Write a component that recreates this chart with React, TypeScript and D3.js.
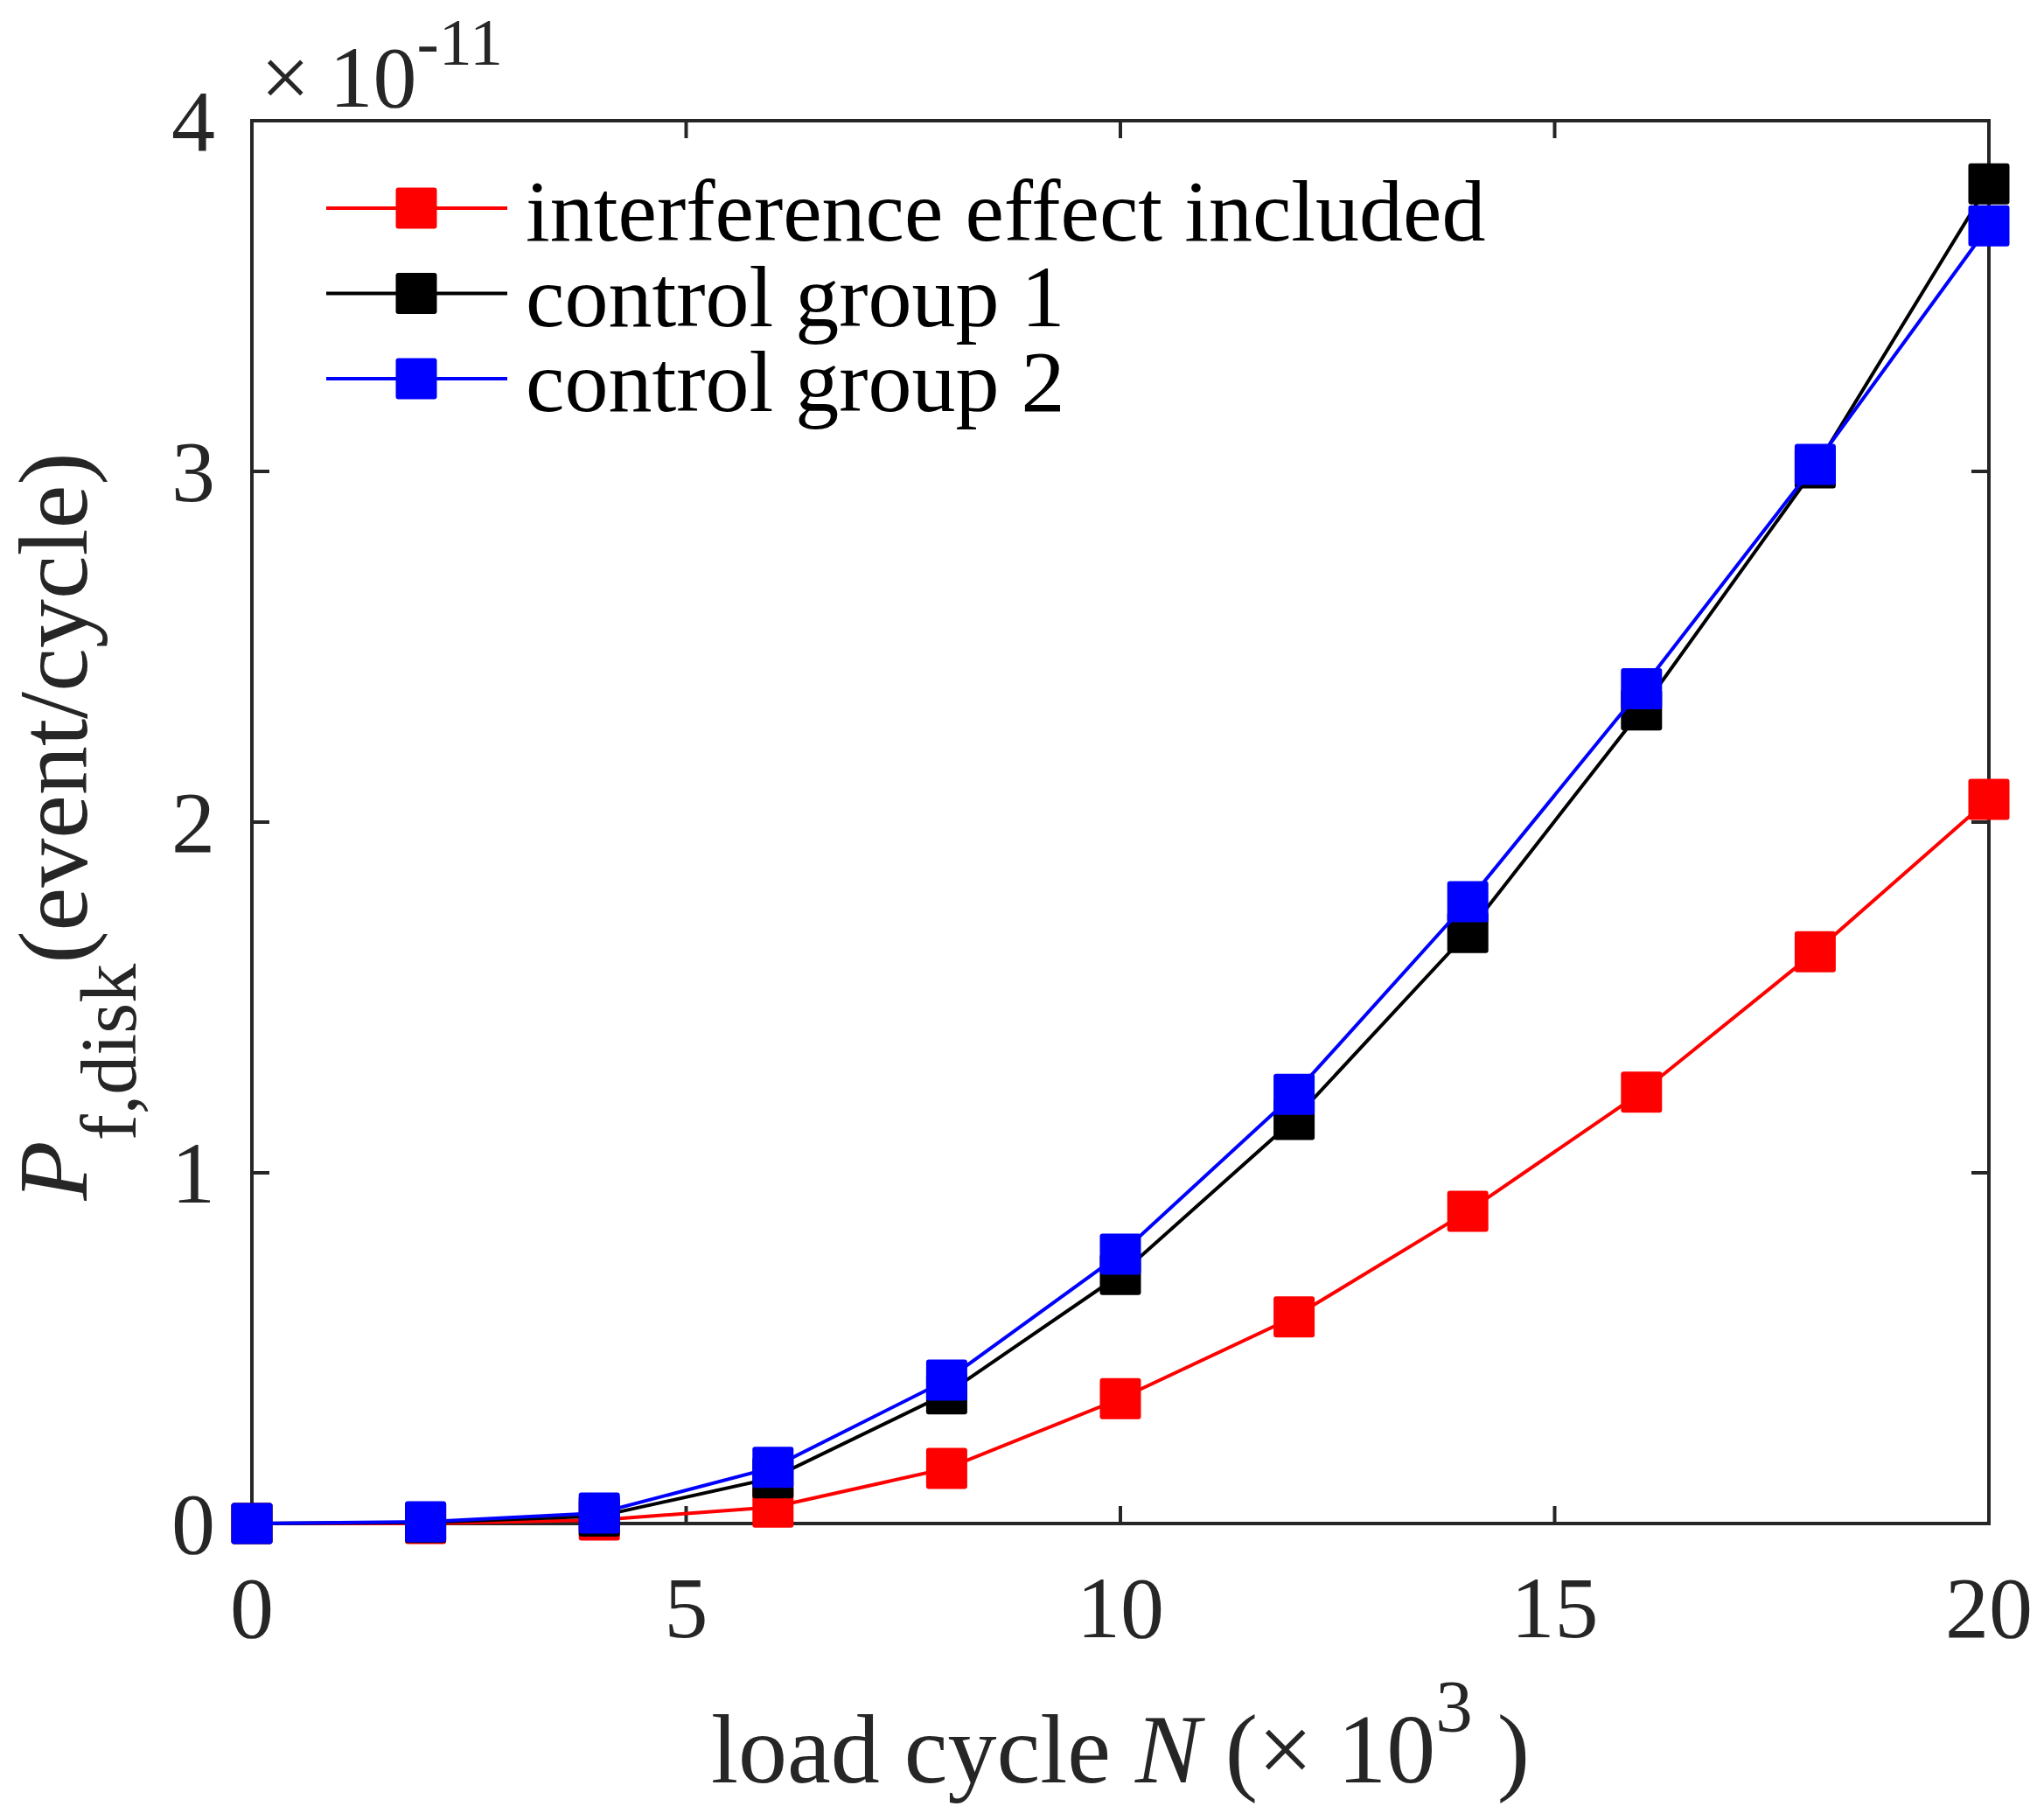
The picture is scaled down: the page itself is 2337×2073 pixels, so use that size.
import { useEffect } from "react";
import * as d3 from "d3";

// load cycle N (x 10^3)
const loadCycles = [0, 2, 4, 6, 8, 10, 12, 14, 16, 18, 20];
// P_f,disk in units of 1e-11 event/cycle
const interference = [0, 0, 0.01, 0.047, 0.157, 0.356, 0.589, 0.89, 1.23, 1.63, 2.065];
const control1 = [0, 0.003, 0.021, 0.13, 0.37, 0.71, 1.152, 1.685, 2.32, 3.01, 3.82];
const control2 = [0, 0.005, 0.03, 0.16, 0.409, 0.768, 1.224, 1.773, 2.38, 3.02, 3.7];

const seriesNames = ["interference effect included", "control group 1", "control group 2"];
const seriesColors = ["#ff0000", "#000000", "#0000ff"];
const seriesValues = [interference, control1, control2];

const xTicks = [0, 5, 10, 15, 20];
const yTicks = [0, 1, 2, 3, 4];

const W = 2337;
const H = 2073;
const margin = { left: 288, right: 63, top: 138, bottom: 331 };
const FONT = "'Liberation Serif', 'Times New Roman', serif";
const AXIS = "#262626";
const MARK = 47;

export default function App() {
  useEffect(() => {
    document.body.style.margin = "0";
  }, []);

  const x = d3.scaleLinear().domain([0, 20]).range([margin.left, W - margin.right]);
  const y = d3.scaleLinear().domain([0, 4]).range([H - margin.bottom, margin.top]);
  const [x0, x1] = x.range();
  const [y0, y1] = y.range();

  const line = d3
    .line<number>()
    .x((_, i) => x(loadCycles[i]))
    .y((d) => y(d));

  const tickLen = 20;

  return (
    <svg width={W} height={H} style={{ display: "block", background: "#fff" }} fontFamily={FONT}>
      {/* axes box */}
      <rect x={x0} y={y1} width={x1 - x0} height={y0 - y1} fill="none" stroke={AXIS} strokeWidth={4} />
      {xTicks.map((t) => (
        <g key={`xt${t}`}>
          <line x1={x(t)} x2={x(t)} y1={y0} y2={y0 - tickLen} stroke={AXIS} strokeWidth={4} />
          <line x1={x(t)} x2={x(t)} y1={y1} y2={y1 + tickLen} stroke={AXIS} strokeWidth={4} />
          <text x={x(t)} y={y0 + 130} textAnchor="middle" fontSize={100} fill={AXIS}>
            {t}
          </text>
        </g>
      ))}
      {yTicks.map((t) => (
        <g key={`yt${t}`}>
          <line x1={x0} x2={x0 + tickLen} y1={y(t)} y2={y(t)} stroke={AXIS} strokeWidth={4} />
          <line x1={x1} x2={x1 - tickLen} y1={y(t)} y2={y(t)} stroke={AXIS} strokeWidth={4} />
          <text x={x0 - 42} y={y(t) + 34} textAnchor="end" fontSize={100} fill={AXIS}>
            {t}
          </text>
        </g>
      ))}

      {/* exponent */}
      <text x={298} y={122} fontSize={100} fill={AXIS}>
        ×<tspan dx={22}>10</tspan>
        <tspan fontSize={76} dy={-48}>
          -11
        </tspan>
      </text>

      {/* x label */}
      <text x={(x0 + x1) / 2} y={2038} textAnchor="middle" fontSize={112} fill={AXIS}>
        load cycle <tspan fontStyle="italic">N</tspan> (× 10
        <tspan fontSize={85} dy={-58}>
          3
        </tspan>
        <tspan dy={58}> )</tspan>
      </text>

      {/* y label */}
      <text
        transform={`translate(99,${(y0 + y1) / 2 + 5}) rotate(-90)`}
        textAnchor="middle"
        fontSize={112}
        fill={AXIS}
      >
        <tspan fontStyle="italic">P</tspan>
        <tspan fontSize={90} dy={56}>
          f,disk
        </tspan>
        <tspan dy={-56}>(event/cycle)</tspan>
      </text>

      {/* series */}
      {seriesValues.map((vals, s) => (
        <g key={`s${s}`}>
          <path d={line(vals) ?? ""} fill="none" stroke={seriesColors[s]} strokeWidth={4} />
          {vals.map((v, i) => (
            <rect
              key={i}
              x={x(loadCycles[i]) - MARK / 2}
              y={y(v) - MARK / 2}
              width={MARK}
              height={MARK}
              rx={3}
              fill={seriesColors[s]}
            />
          ))}
        </g>
      ))}

      {/* legend */}
      {seriesNames.map((name, s) => {
        const cy = 238 + s * 97.5;
        return (
          <g key={`lg${s}`}>
            <line x1={373} x2={580} y1={cy} y2={cy} stroke={seriesColors[s]} strokeWidth={4} />
            <rect x={476 - MARK / 2} y={cy - MARK / 2} width={MARK} height={MARK} rx={3} fill={seriesColors[s]} />
            <text x={601} y={cy + 37} fontSize={100} fill="#000">
              {name}
            </text>
          </g>
        );
      })}
    </svg>
  );
}
